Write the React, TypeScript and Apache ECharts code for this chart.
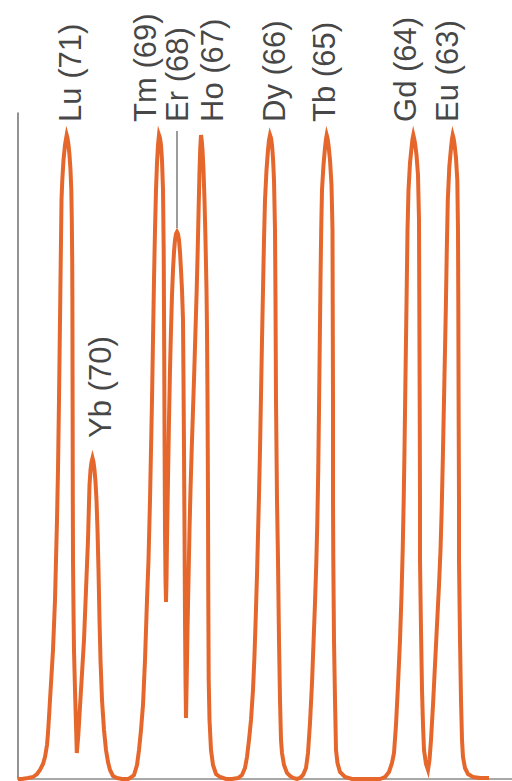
import React, { useEffect, useRef } from "react";
import * as echarts from "echarts";

// Chromatogram trace: [retention position, detector signal]
const luTrace: [number, number][] = [
  [18, 0], [22, 0], [28, 1], [33, 2], [37, 5], [40, 9], [43, 15], [45, 22], [47, 34], [48, 46], [49, 62], [50, 79],
  [51.5, 104], [53, 129], [54, 154], [55, 179], [56, 219], [57, 259], [58, 309], [59, 379], [60, 459], [60.5, 499],
  [61, 539], [61.5, 579], [62.3, 599], [63.5, 619], [65, 634], [66, 640], [66.7, 644],
  [67.5, 641], [68.5, 634], [69.5, 624], [70.5, 609], [71.3, 589], [71.8, 559], [72.2, 519], [72.4, 479], [72.6, 379],
  [72.8, 279], [73, 219], [73.5, 169], [74, 129], [75, 89], [76, 54], [76.8, 26],
];
const ybTrace: [number, number][] = [
  [78.3, 44], [79.5, 64], [81, 89], [82.5, 114], [84, 139], [85, 164], [86, 189], [87, 214], [88, 239], [88.8, 269],
  [89.5, 294], [90.5, 309], [91.5, 317], [92.5, 321],
  [93.5, 317], [94.5, 309], [95.5, 297], [96.5, 279], [97.5, 249], [98.5, 209], [99.5, 159], [100.5, 119], [102, 79],
  [104, 49], [106, 29], [108, 17], [110, 9], [113, 3], [117, 1], [122, 0],
];
const tmTrace: [number, number][] = [
  [128, 0], [130, 1], [134, 4], [137, 14], [139, 29], [141, 49], [143, 74], [145, 119], [147, 179], [148.5, 219], [150, 279],
  [151, 329], [152, 379], [153, 439], [154, 499], [155, 549], [156, 589], [157, 616], [158, 634], [159, 644],
  [160, 641], [161, 634], [162, 619], [163, 589], [163.7, 529], [164.2, 429], [164.6, 329], [165, 249], [165.5, 199], [166, 177],
];
const erTrace: [number, number][] = [
  [166.5, 199], [167, 239], [168, 299], [169, 359], [170, 409], [171, 449], [172, 484], [173, 509], [174, 527], [175, 539],
  [176, 545], [177, 547],
  [178, 545], [179, 539], [180, 527], [181, 509], [182, 489], [183, 459], [183.5, 399], [184, 329], [184.5, 249], [185, 159],
  [185.5, 99], [186, 61],
];
const hoTrace: [number, number][] = [
  [186.7, 99], [187.5, 149], [188.5, 199], [189.5, 249], [190.5, 289], [191.7, 329], [193, 369], [194.3, 409], [195.5, 449],
  [196.7, 489], [197.7, 529], [198.6, 569], [199.4, 604], [200.2, 630], [201, 644],
  [201.7, 639], [202.5, 629], [203.5, 609], [204.5, 579], [205.5, 539], [206.5, 489], [207, 449], [207.5, 379], [208, 279],
  [208.3, 179], [208.7, 99], [209.5, 59], [211, 29], [213, 14], [216, 5], [220, 2], [226, 0],
];
const dyTrace: [number, number][] = [
  [232, 0], [238, 1], [242, 4], [245, 11], [247, 22], [249, 39], [251, 59], [253, 89], [254.5, 124], [255.8, 164], [257, 204],
  [258, 244], [259, 284], [260, 329], [261, 384], [262, 439], [263, 489], [264, 539], [265, 579], [266.5, 609], [268, 629],
  [269, 639], [270, 644],
  [271, 641], [272, 634], [273, 621], [274, 599], [275, 549], [275.5, 479], [276, 379], [277, 279], [278, 219], [279, 139],
  [280, 79], [281, 39], [282, 26], [284, 14], [287, 6], [290, 3], [293, 1],
];
const tbTrace: [number, number][] = [
  [297, 0], [300, 1], [303, 4], [306, 11], [308, 26], [310, 56], [312, 96], [313.5, 136], [315, 176], [316.3, 216],
  [317.3, 256], [318.2, 306], [319, 369], [319.8, 439], [320.5, 499], [321.2, 549], [322, 589], [323.5, 614], [325, 631],
  [326, 640], [326.7, 644],
  [327.5, 641], [328.5, 634], [330, 619], [331.5, 594], [332.5, 549], [332.7, 479], [333, 379], [333, 279], [333.3, 219],
  [334, 139], [335, 79], [336, 29], [337.5, 16], [340, 7], [345, 2], [352, 0],
];
const gdTrace: [number, number][] = [
  [380, 0], [385, 2], [389, 7], [392, 16], [394, 26], [396, 54], [398, 94], [400, 139], [401.5, 184], [402.7, 229],
  [403.7, 279], [404.5, 329], [405.3, 389], [406, 439], [406.7, 489], [407.5, 549], [408.5, 589], [410, 616], [411.5, 631],
  [412.5, 640], [413.3, 644],
  [414, 641], [415, 636], [416.5, 624], [418, 604], [419, 559], [419.3, 479], [419.7, 379], [420, 279], [420, 219],
  [421, 149], [422, 89], [423, 54], [424, 29], [426, 15], [428, 9],
];
const euTrace: [number, number][] = [
  [429.5, 19], [431, 39], [433, 74], [435, 114], [437, 154], [439, 194], [440.5, 229], [441.7, 269], [442.8, 319],
  [443.8, 369], [444.8, 419], [445.8, 469], [446.8, 529], [447.8, 579], [449.3, 612], [451, 631], [452, 640], [452.7, 644],
  [453.5, 641], [454.5, 635], [456, 621], [457.3, 599], [458, 549], [458.3, 479], [458.6, 379], [459, 279], [459, 219],
  [460, 139], [461, 79], [462, 39], [463, 22], [465, 11], [468, 5], [473, 2], [480, 1], [489, 1],
];

// Peak labels: name, label x position, label start signal
const peakNames = ["Lu (71)", "Yb (70)", "Tm (69)", "Er (68)", "Ho (67)", "Dy (66)", "Tb (65)", "Gd (64)", "Eu (63)"];
const labelX = [71, 101, 146, 178, 213, 275, 325, 406, 448];
const labelY = [657, 341, 657, 657, 657, 657, 657, 657, 657];

// Leader line for Er
const erLeader: [number, number][] = [[177, 648], [177, 551]];

export default function App() {
  const ref = useRef<HTMLDivElement>(null);
  useEffect(() => {
    if (!ref.current) return;
    const chart = echarts.init(ref.current, undefined, { renderer: "svg" });
    const trace = [
      ...luTrace, ...ybTrace, ...tmTrace, ...erTrace, ...hoTrace, ...dyTrace, ...tbTrace, ...gdTrace, ...euTrace,
    ];
    chart.setOption({
      animation: false,
      backgroundColor: "#ffffff",
      grid: { left: 18, right: 0, top: 113, bottom: 2 },
      xAxis: {
        type: "value",
        min: 18,
        max: 512,
        axisLine: { show: true, lineStyle: { color: "#a8a8a8", width: 2 } },
        axisTick: { show: false },
        axisLabel: { show: false },
        splitLine: { show: false },
      },
      yAxis: {
        type: "value",
        min: 0,
        max: 666,
        axisLine: { show: true, lineStyle: { color: "#6e6e6e", width: 1.5 } },
        axisTick: { show: false },
        axisLabel: { show: false },
        splitLine: { show: false },
      },
      series: [
        {
          type: "line",
          data: trace,
          showSymbol: false,
          symbol: "none",
          lineStyle: { color: "#E5672C", width: 4, join: "miter", miterLimit: 6 },
          z: 3,
        },
        {
          type: "line",
          data: erLeader,
          showSymbol: false,
          symbol: "none",
          lineStyle: { color: "#9c9c9c", width: 2 },
          z: 2,
        },
        {
          type: "scatter",
          symbolSize: 0.1,
          itemStyle: { color: "transparent" },
          data: peakNames.map((n, i) => ({ name: n, value: [labelX[i], labelY[i]] })),
          label: {
            show: true,
            position: [0, 0],
            rotate: 90,
            align: "left",
            verticalAlign: "middle",
            formatter: (p: any) => p.name,
            fontFamily: "Liberation Sans, Arial, sans-serif",
            fontSize: 31,
            color: "#141414",
          },
          z: 4,
        },
      ],
    });
    return () => chart.dispose();
  }, []);
  return (
    <div
      ref={ref}
      style={{ position: "fixed", left: 0, top: 0, width: 512, height: 781, background: "#fff" }}
    />
  );
}
